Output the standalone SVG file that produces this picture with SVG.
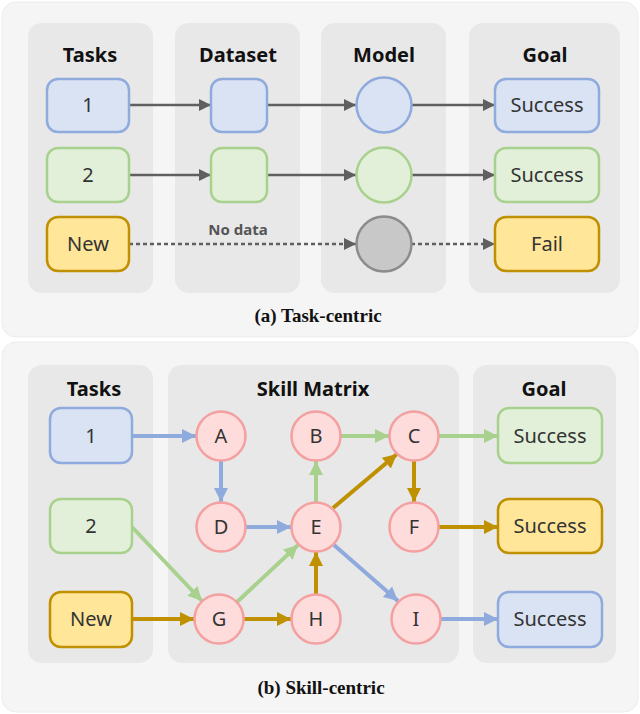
<svg xmlns="http://www.w3.org/2000/svg" width="640" height="714" viewBox="0 0 640 714">
<defs>
<style>
.panel{fill:#f5f5f5;stroke:#ececec}
.col{fill:#e8e8e8}
.hd{font-family:"Noto Sans","Liberation Sans",sans-serif;font-weight:bold;font-size:20px;fill:#111;text-anchor:middle}
.lb{font-family:"Noto Sans","Liberation Sans",sans-serif;font-size:20px;fill:#333;text-anchor:middle}
.cap{font-family:"Liberation Serif",serif;font-weight:bold;font-size:19px;fill:#111;text-anchor:middle}
.blue{fill:#dae3f3;stroke:#8faadc;stroke-width:2.5}
.green{fill:#e2f0d9;stroke:#a9d18e;stroke-width:2.5}
.yel{fill:#ffe699;stroke:#bf9000;stroke-width:2.5}
.pink{fill:#ffdcdc;stroke:#f4a0a0;stroke-width:2.5}
.gray{fill:#c8c8c8;stroke:#8c8c8c;stroke-width:2.5}
.ga{stroke:#5f5f5f;stroke-width:2.5;fill:none;marker-end:url(#mg)}
.gd{stroke:#5f5f5f;stroke-width:2.5;fill:none;stroke-dasharray:4 3;marker-end:url(#mg)}
.eb{stroke:#8faadc;stroke-width:4;fill:none;marker-end:url(#mb)}
.eg{stroke:#a9d18e;stroke-width:4;fill:none;marker-end:url(#mgr)}
.ey{stroke:#bf9000;stroke-width:4;fill:none;marker-end:url(#my)}
</style>
<marker id="mg" markerUnits="userSpaceOnUse" markerWidth="14" markerHeight="14" refX="12" refY="7" orient="auto"><path d="M0,1 L12,7 L0,13 Z" fill="#5f5f5f"/></marker>
<marker id="mb" markerUnits="userSpaceOnUse" markerWidth="16" markerHeight="16" refX="14" refY="8" orient="auto"><path d="M0,1 L14,8 L0,15 Z" fill="#8faadc"/></marker>
<marker id="mgr" markerUnits="userSpaceOnUse" markerWidth="16" markerHeight="16" refX="14" refY="8" orient="auto"><path d="M0,1 L14,8 L0,15 Z" fill="#a9d18e"/></marker>
<marker id="my" markerUnits="userSpaceOnUse" markerWidth="16" markerHeight="16" refX="14" refY="8" orient="auto"><path d="M0,1 L14,8 L0,15 Z" fill="#bf9000"/></marker>
</defs>
<rect width="640" height="714" fill="#fff"/>
<g id="panel-a">
<rect class="panel" x="2" y="2" width="636" height="335" rx="14"/>
<rect class="col" x="28" y="23" width="125" height="270" rx="14"/>
<rect class="col" x="175" y="23" width="125" height="270" rx="14"/>
<rect class="col" x="321" y="23" width="125" height="270" rx="14"/>
<rect class="col" x="469" y="23" width="151" height="270" rx="14"/>
<text class="hd" x="90" y="62">Tasks</text>
<text class="hd" x="238" y="62">Dataset</text>
<text class="hd" x="384" y="62">Model</text>
<text class="hd" x="545" y="62">Goal</text>
<text class="cap" x="318" y="322">(a) Task-centric</text>
</g>
<g id="a-connectors">
<line class="ga" x1="129" y1="105" x2="211" y2="105"/>
<line class="ga" x1="267" y1="105" x2="356" y2="105"/>
<line class="ga" x1="411" y1="105" x2="495" y2="105"/>
<line class="ga" x1="129" y1="175" x2="211" y2="175"/>
<line class="ga" x1="267" y1="175" x2="356" y2="175"/>
<line class="ga" x1="411" y1="175" x2="495" y2="175"/>
<line class="gd" x1="129" y1="244" x2="356" y2="244"/>
<line class="gd" x1="411" y1="244" x2="495" y2="244"/>
<text x="238" y="235" font-family="Noto Sans,Liberation Sans,sans-serif" font-size="15" font-weight="bold" fill="#555" text-anchor="middle">No data</text>
</g>
<g id="a-t1"><rect class="blue" x="47" y="79" width="82" height="53" rx="11"/><text class="lb" x="88" y="112">1</text></g>
<g id="a-t2"><rect class="green" x="47" y="148" width="82" height="54" rx="11"/><text class="lb" x="88" y="182">2</text></g>
<g id="a-tn"><rect class="yel" x="47" y="217" width="82" height="54" rx="11"/><text class="lb" x="88" y="251">New</text></g>
<g id="a-d1"><rect class="blue" x="211" y="79" width="56" height="53" rx="11"/></g>
<g id="a-d2"><rect class="green" x="211" y="148" width="56" height="54" rx="11"/></g>
<g id="a-m1"><ellipse class="blue" cx="384" cy="105" rx="27.5" ry="27.5"/></g>
<g id="a-m2"><ellipse class="green" cx="384" cy="175" rx="27.5" ry="27.5"/></g>
<g id="a-m3"><ellipse class="gray" cx="384" cy="244" rx="27.5" ry="27.5"/></g>
<g id="a-g1"><rect class="blue" x="495" y="79" width="104" height="53" rx="11"/><text class="lb" x="547" y="112">Success</text></g>
<g id="a-g2"><rect class="green" x="495" y="148" width="104" height="54" rx="11"/><text class="lb" x="547" y="182">Success</text></g>
<g id="a-g3"><rect class="yel" x="495" y="217" width="104" height="54" rx="11"/><text class="lb" x="547" y="251">Fail</text></g>

<g id="panel-b">
<rect class="panel" x="2" y="342" width="636" height="370" rx="14"/>
<rect class="col" x="28" y="365" width="125" height="298" rx="14"/>
<rect class="col" x="168" y="365" width="291" height="298" rx="14"/>
<rect class="col" x="473" y="365" width="143" height="298" rx="14"/>
<text class="hd" x="94" y="396">Tasks</text>
<text class="hd" x="313" y="396">Skill Matrix</text>
<text class="hd" x="544" y="396">Goal</text>
<text class="cap" x="321" y="694">(b) Skill-centric</text>
</g>
<g id="b-connectors">
<line class="eb" x1="132" y1="436" x2="196" y2="436"/>
<line class="eb" x1="221" y1="461" x2="221" y2="502"/>
<line class="eb" x1="246" y1="527" x2="291" y2="527"/>
<line class="eb" x1="334" y1="545" x2="398" y2="601"/>
<line class="eb" x1="441" y1="619" x2="498" y2="619"/>
<line class="eg" x1="341" y1="436" x2="389" y2="436"/>
<line class="eg" x1="316" y1="502" x2="316" y2="461"/>
<line class="eg" x1="439" y1="436" x2="498" y2="436"/>
<line class="eg" x1="132" y1="527" x2="202" y2="601"/>
<line class="eg" x1="237" y1="602" x2="298" y2="545"/>
<line class="ey" x1="132" y1="619" x2="194" y2="619"/>
<line class="ey" x1="244" y1="619" x2="291" y2="619"/>
<line class="ey" x1="316" y1="594" x2="316" y2="552"/>
<line class="ey" x1="333" y1="508" x2="397" y2="454"/>
<line class="ey" x1="414" y1="461" x2="414" y2="502"/>
<line class="ey" x1="439" y1="527" x2="498" y2="527"/>
</g>
<g id="b-t1"><rect class="blue" x="50" y="408" width="82" height="55" rx="11"/><text class="lb" x="91" y="443">1</text></g>
<g id="b-t2"><rect class="green" x="50" y="499" width="82" height="54" rx="11"/><text class="lb" x="91" y="533">2</text></g>
<g id="b-tn"><rect class="yel" x="50" y="592" width="82" height="55" rx="11"/><text class="lb" x="91" y="626">New</text></g>
<g id="b-A"><circle class="pink" cx="221" cy="436" r="24.5"/><text class="lb" x="221" y="443">A</text></g>
<g id="b-B"><circle class="pink" cx="316" cy="436" r="24.5"/><text class="lb" x="316" y="443">B</text></g>
<g id="b-C"><circle class="pink" cx="414" cy="436" r="24.5"/><text class="lb" x="414" y="443">C</text></g>
<g id="b-D"><circle class="pink" cx="221" cy="527" r="24.5"/><text class="lb" x="221" y="534">D</text></g>
<g id="b-E"><circle class="pink" cx="316" cy="527" r="24.5"/><text class="lb" x="316" y="534">E</text></g>
<g id="b-F"><circle class="pink" cx="414" cy="527" r="24.5"/><text class="lb" x="414" y="534">F</text></g>
<g id="b-G"><circle class="pink" cx="219" cy="619" r="24.5"/><text class="lb" x="219" y="626">G</text></g>
<g id="b-H"><circle class="pink" cx="316" cy="619" r="24.5"/><text class="lb" x="316" y="626">H</text></g>
<g id="b-I"><circle class="pink" cx="416" cy="619" r="24.5"/><text class="lb" x="416" y="626">I</text></g>
<g id="b-g1"><rect class="green" x="498" y="408" width="104" height="55" rx="11"/><text class="lb" x="550" y="443">Success</text></g>
<g id="b-g2"><rect class="yel" x="498" y="499" width="104" height="54" rx="11"/><text class="lb" x="550" y="533">Success</text></g>
<g id="b-g3"><rect class="blue" x="498" y="592" width="104" height="55" rx="11"/><text class="lb" x="550" y="626">Success</text></g>
</svg>
